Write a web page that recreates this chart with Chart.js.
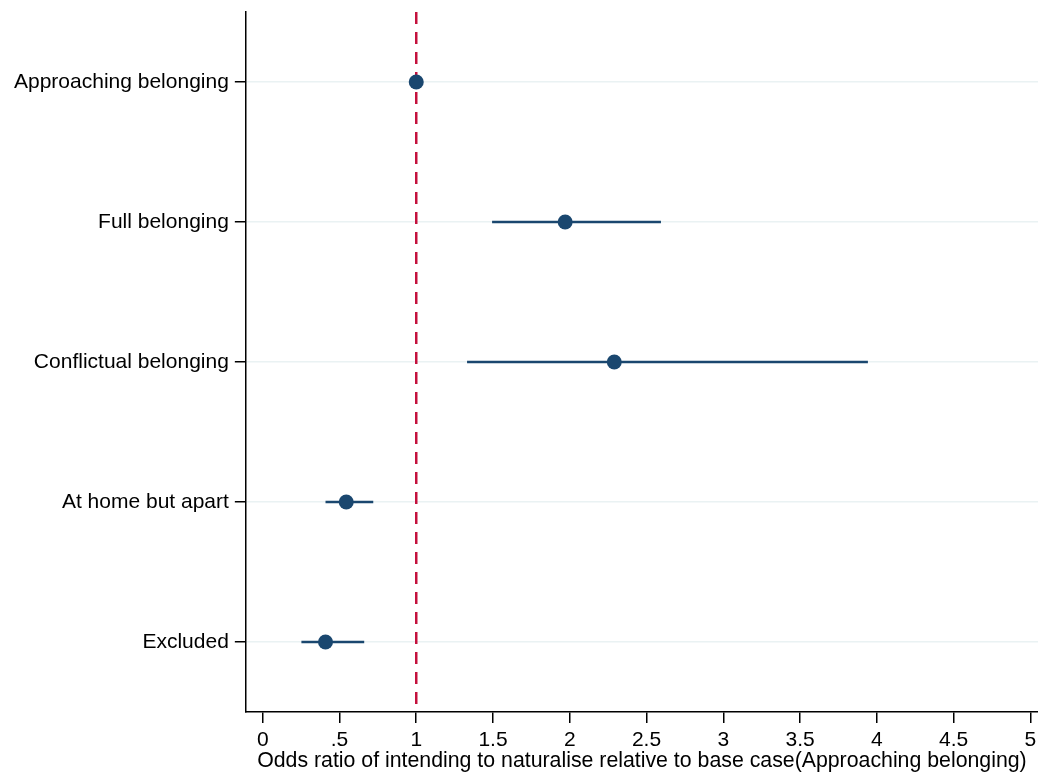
<!DOCTYPE html>
<html>
<head>
<meta charset="utf-8">
<script src="https://cdn.jsdelivr.net/npm/chart.js@4/dist/chart.umd.min.js"></script>
<style>
  html, body { margin: 0; padding: 0; background: #fff; }
  #wrap { width: 1038px; height: 776px; }
</style>
</head>
<body>
<div id="wrap"><canvas id="chart"></canvas></div>
<script>
// data
const categories = ['Approaching belonging', 'Full belonging', 'Conflictual belonging', 'At home but apart', 'Excluded'];
const oddsRatio = [1, 1.97, 2.29, 0.544, 0.409];
const ciLower = [1, 1.494, 1.331, 0.409, 0.252];
const ciUpper = [1, 2.594, 3.942, 0.720, 0.661];
const baseCase = 1;
const xTickValues = [0, 0.5, 1, 1.5, 2, 2.5, 3, 3.5, 4, 4.5, 5];
const xTickLabels = ['0', '.5', '1', '1.5', '2', '2.5', '3', '3.5', '4', '4.5', '5'];
const xTitle = 'Odds ratio of intending to naturalise relative to base case(Approaching belonging)';

const NAVY = '#1a476f';
const RED = '#c4113d';
const FONT = "'Liberation Sans', Arial, sans-serif";

Chart.defaults.font.family = FONT;
Chart.defaults.color = '#000';

const datasets = [];

// reference line at the base case
datasets.push({
  data: [{ x: baseCase, y: 0.5 }, { x: baseCase, y: categories.length + 0.5 }],
  showLine: true, borderColor: RED, borderWidth: 2.5, borderDash: [12, 8],
  pointRadius: 0, order: 3
});

// confidence intervals
categories.forEach((c, i) => {
  datasets.push({
    data: [{ x: ciLower[i], y: i + 1 }, { x: ciUpper[i], y: i + 1 }],
    showLine: true, borderColor: NAVY, borderWidth: 2.5,
    pointRadius: 0, order: 2
  });
});

// point estimates
datasets.push({
  data: categories.map((c, i) => ({ x: oddsRatio[i], y: i + 1 })),
  pointRadius: 7.5, pointBackgroundColor: NAVY, pointBorderWidth: 0,
  order: 1
});

new Chart(document.getElementById('chart'), {
  type: 'scatter',
  data: { datasets },
  options: {
    responsive: true,
    maintainAspectRatio: false,
    animation: false,
    layout: { autoPadding: false, padding: { top: 12, left: 8, right: 0, bottom: 2 } },
    plugins: { legend: { display: false }, tooltip: { enabled: false } },
    scales: {
      x: {
        type: 'linear', min: -0.11, max: 5.05,
        afterBuildTicks: axis => { axis.ticks = xTickValues.map(v => ({ value: v })); },
        afterFit: axis => { axis.paddingLeft = 0; axis.paddingRight = 0; },
        ticks: {
          autoSkip: false, maxRotation: 0, padding: 8,
          font: { size: 21, lineHeight: 18 / 21 },
          callback: v => xTickLabels[xTickValues.indexOf(v)]
        },
        grid: { drawOnChartArea: false, tickColor: '#000', tickLength: 11, lineWidth: 1.5 },
        border: { color: '#000', width: 1.5 },
        // small line height keeps the title tucked close under the tick labels
        title: { display: true, text: xTitle, font: { size: 21.3, lineHeight: 8 / 21.3 }, padding: { top: 0, bottom: 9 } }
      },
      y: {
        type: 'linear', min: 0.5, max: categories.length + 0.5, reverse: true,
        afterBuildTicks: axis => { axis.ticks = categories.map((c, i) => ({ value: i + 1 })); },
        afterFit: axis => { axis.paddingTop = 0; axis.paddingBottom = 0; },
        ticks: {
          autoSkip: false, padding: 6,
          font: { size: 21 },
          callback: v => categories[v - 1]
        },
        grid: { color: '#eaf2f3', lineWidth: 1.5, tickColor: '#000', tickLength: 11 },
        border: { color: '#000', width: 1.5 }
      }
    }
  }
});
</script>
</body>
</html>
